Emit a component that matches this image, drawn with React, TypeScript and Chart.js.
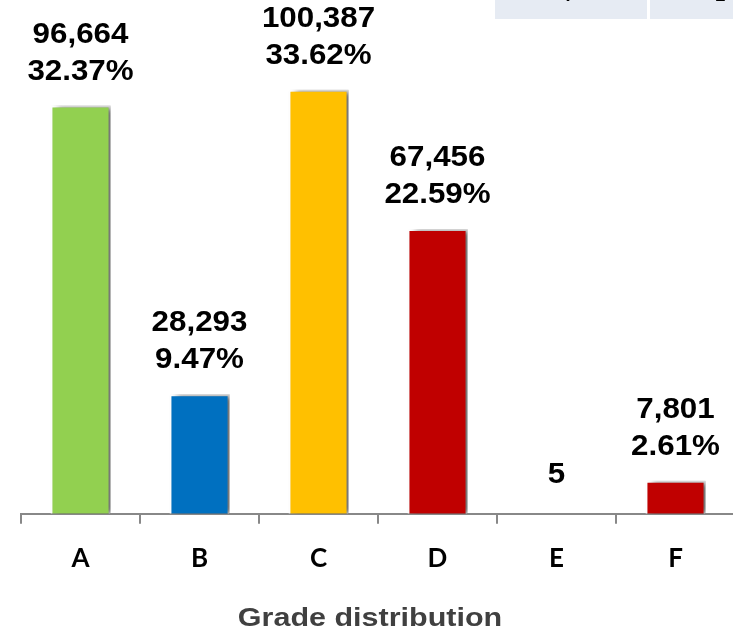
import React, { useEffect, useRef } from "react";
import { Chart, registerables } from "chart.js";

Chart.register(...registerables);

const categories = ["A", "B", "C", "D", "E", "F"];
const counts = [96664, 28293, 100387, 67456, 5, 7801];
const countLabels = ["96,664", "28,293", "100,387", "67,456", "5", "7,801"];
const percentLabels = ["32.37%", "9.47%", "33.62%", "22.59%", "", "2.61%"];
const barColors = ["#92D050", "#0070C0", "#FFC000", "#C00000", "#C00000", "#C00000"];
const axisTitle = "Grade distribution";
const tableCells = ["F", "< 2"];

const shadowPlugin = {
  id: "barShadow",
  beforeDatasetsDraw(chart: any) {
    const ctx = chart.ctx;
    ctx.save();
    ctx.shadowColor = "rgba(0,0,0,0.55)";
    ctx.shadowBlur = 6;
    ctx.shadowOffsetX = 6;
    ctx.shadowOffsetY = 0;
  },
  afterDatasetsDraw(chart: any) {
    chart.ctx.restore();
  },
};

function stretchedText(ctx: any, text: string, x: number, y: number, sx: number) {
  ctx.save();
  ctx.translate(x, y);
  ctx.scale(sx, 1);
  ctx.fillText(text, 0, 0);
  ctx.restore();
}

const labelPlugin = {
  id: "barLabels",
  afterDraw(chart: any) {
    const ctx = chart.ctx;
    const meta = chart.getDatasetMeta(0);
    const area = chart.chartArea;
    ctx.save();
    ctx.fillStyle = "#000000";
    ctx.textAlign = "center";
    ctx.textBaseline = "middle";
    ctx.font = "bold 29px 'Liberation Sans', Arial, sans-serif";
    meta.data.forEach((el: any, i: number) => {
      const x = el.x;
      const top = el.y;
      const pct = percentLabels[i];
      if (pct) {
        stretchedText(ctx, pct, x, top - 34, 1.08);
        stretchedText(ctx, countLabels[i], x, top - 71, 1.08);
      } else {
        stretchedText(ctx, countLabels[i], x, top - 39, 1.08);
      }
    });
    ctx.fillStyle = "#404040";
    ctx.font = "bold 25px 'Liberation Sans', Arial, sans-serif";
    stretchedText(ctx, axisTitle, (area.left + area.right) / 2 - 8, area.bottom + 105, 1.22);
    ctx.restore();
  },
};

export default function App() {
  const ref = useRef<HTMLCanvasElement | null>(null);
  useEffect(() => {
    document.body.style.margin = "0";
    const chart = new Chart(ref.current as HTMLCanvasElement, {
      type: "bar",
      data: {
        labels: categories,
        datasets: [
          {
            data: counts,
            backgroundColor: barColors,
            borderColor: "#FFFFFF",
            borderWidth: 2,
            borderSkipped: "bottom",
            barPercentage: 0.505,
            categoryPercentage: 1,
          },
        ],
      },
      options: {
        animation: false,
        responsive: false,
        layout: { padding: { left: 21, right: 25, top: 7, bottom: 42 } },
        plugins: { legend: { display: false }, tooltip: { enabled: false } },
        scales: {
          y: { display: false, min: 0, max: 120000 },
          x: {
            offset: true,
            border: { display: true, color: "#888888", width: 2 },
            grid: {
              display: true,
              offset: true,
              drawOnChartArea: false,
              drawTicks: true,
              tickLength: 10,
              color: "#888888",
              lineWidth: 2,
            },
            ticks: {
              color: "#000000",
              padding: 19,
              font: { family: "Lato, 'Open Sans', sans-serif", weight: "bold", size: 26 },
            },
            title: { display: false, text: axisTitle },
          },
        },
      },
      plugins: [shadowPlugin, labelPlugin],
    });
    return () => chart.destroy();
  }, []);

  return (
    <div style={{ position: "fixed", left: 0, top: 0, width: 733, height: 635, overflow: "hidden", background: "#fff" }}>
      <canvas ref={ref} width={760} height={635} style={{ position: "absolute", left: 0, top: 0, width: 760, height: 635 }} />
      <div style={{ position: "absolute", left: 495, top: 0, width: 152, height: 19, background: "#E6EBF3" }} />
      <div style={{ position: "absolute", left: 650, top: 0, width: 100, height: 19, background: "#E6EBF3" }} />
      <div style={{ position: "absolute", left: 495, top: -12, width: 152, textAlign: "center", font: "bold 18px 'Liberation Sans', Arial, sans-serif", lineHeight: "15px", color: "#000" }}>{tableCells[0]}</div>
      <div style={{ position: "absolute", left: 700, top: -12, width: 60, whiteSpace: "nowrap", font: "bold 18px 'Liberation Sans', Arial, sans-serif", lineHeight: "15px", color: "#000" }}>{tableCells[1]}</div>
    </div>
  );
}
